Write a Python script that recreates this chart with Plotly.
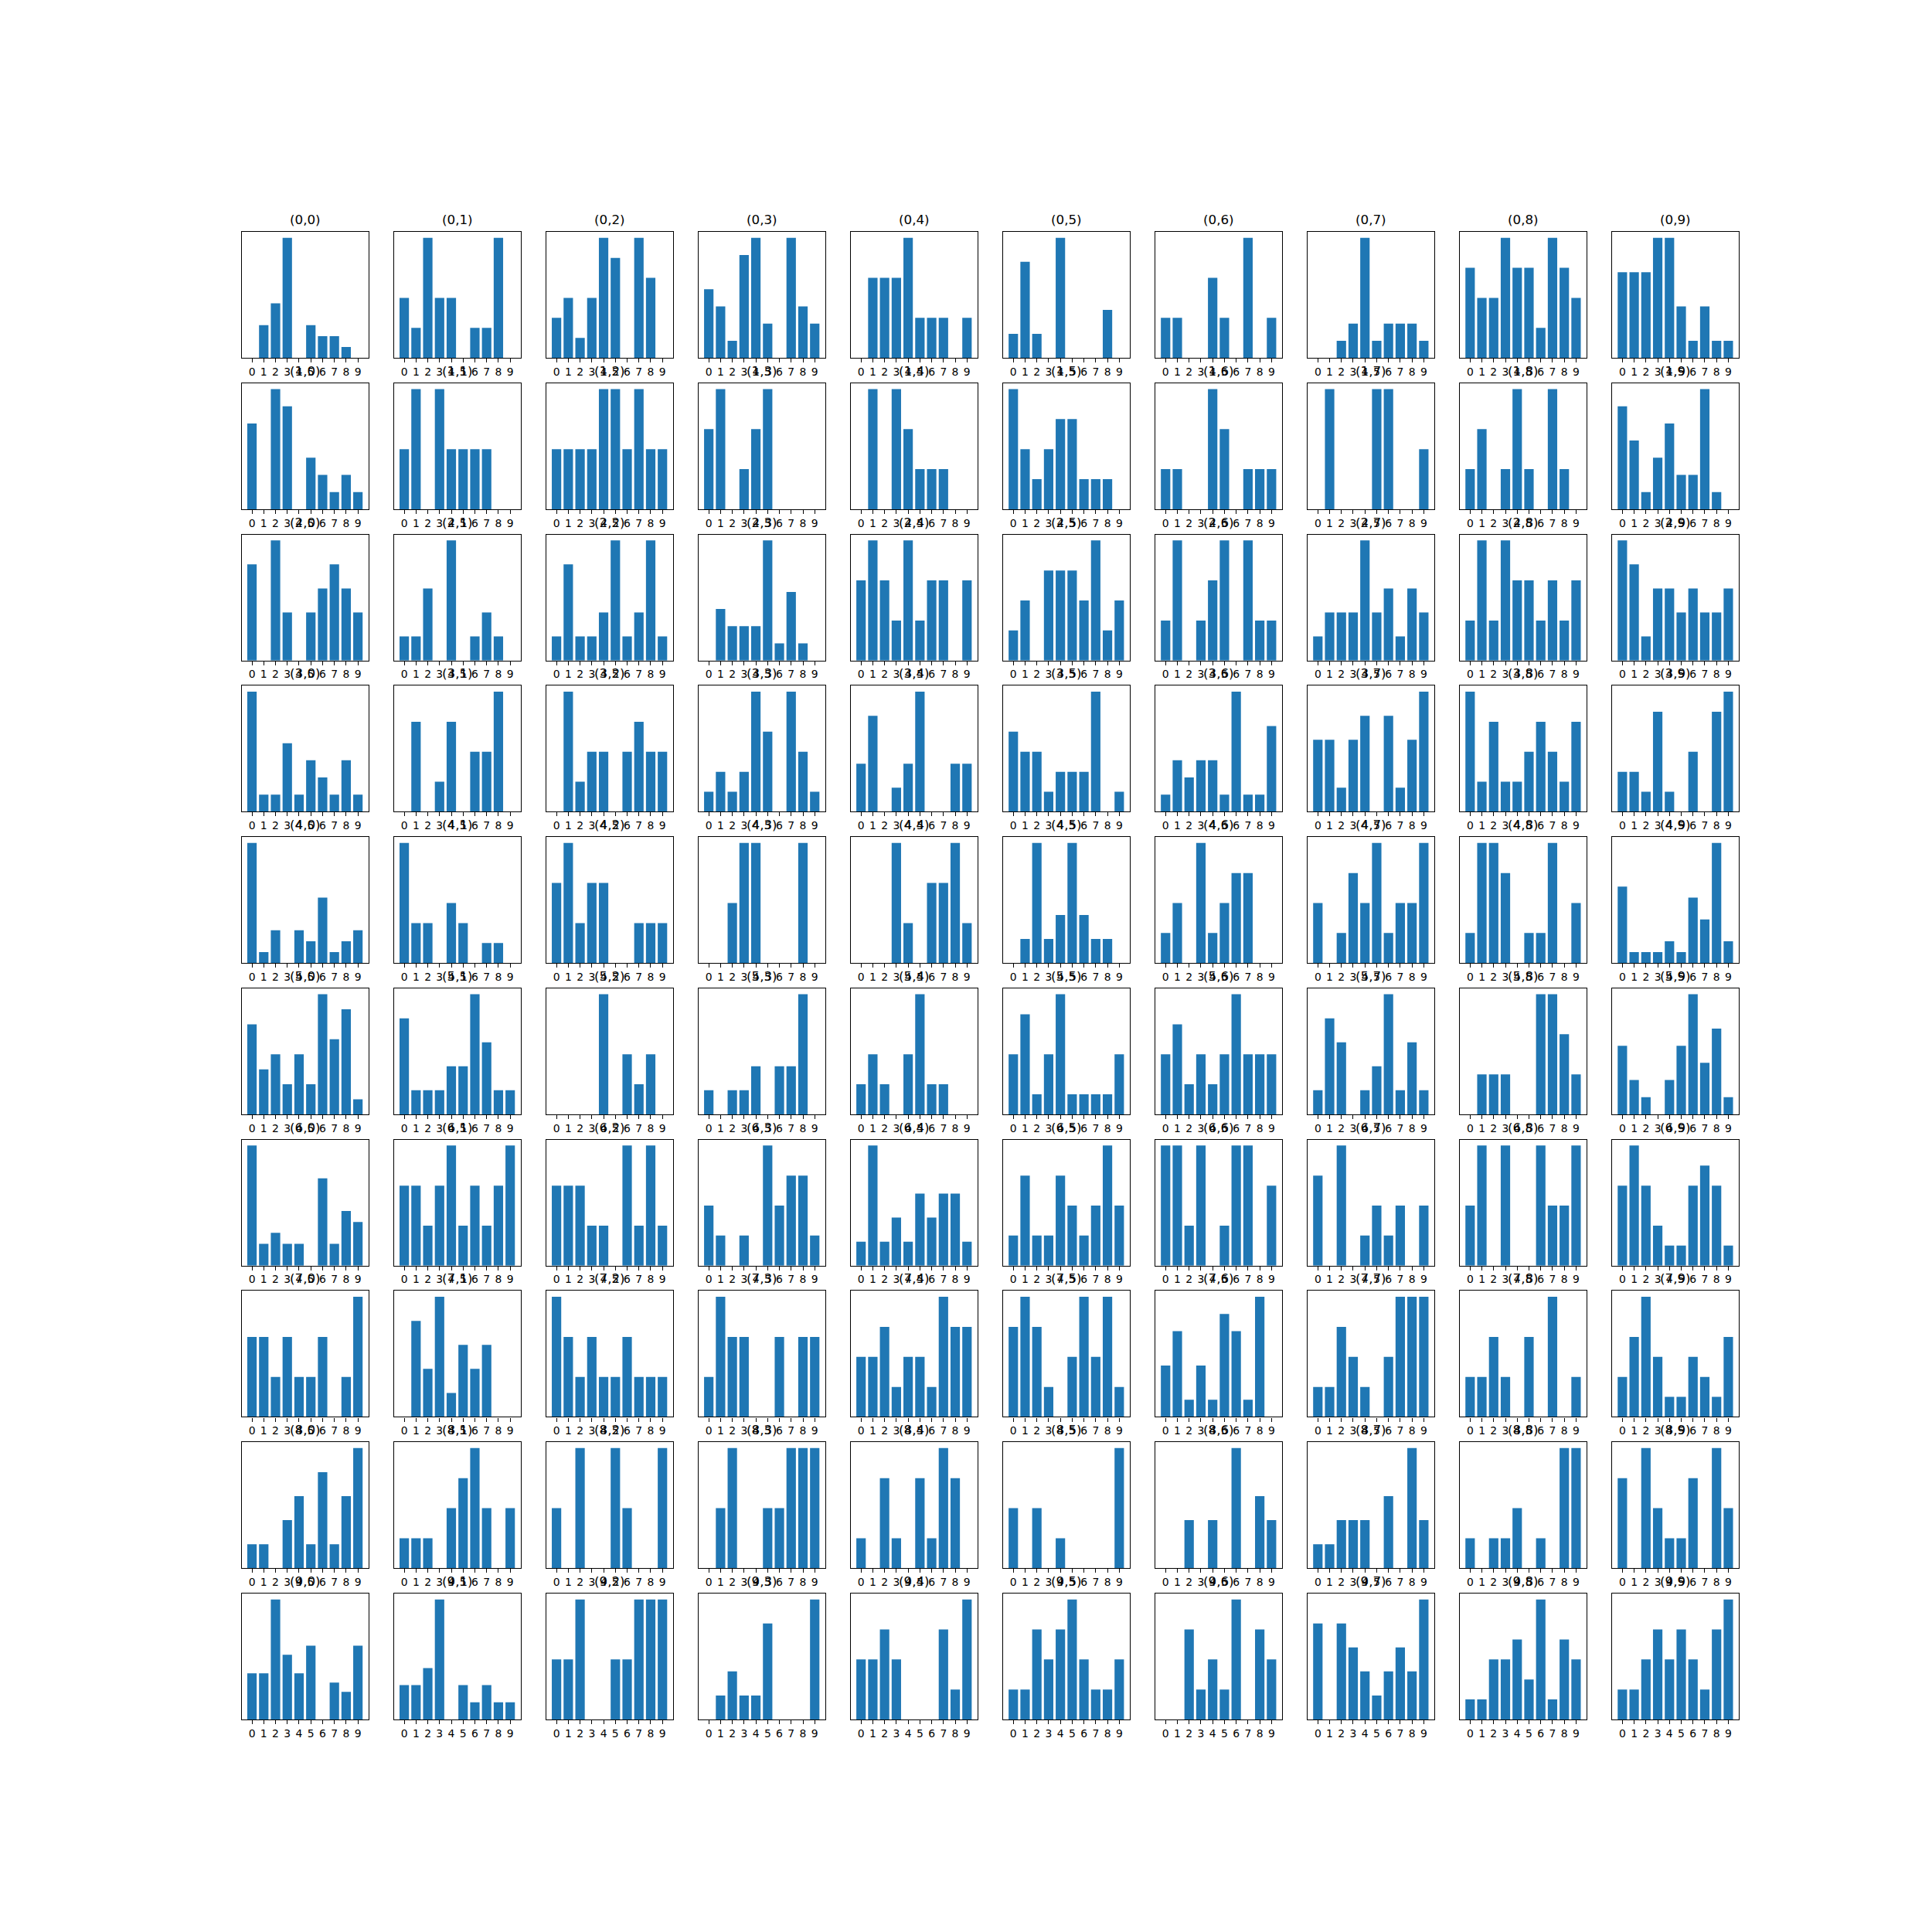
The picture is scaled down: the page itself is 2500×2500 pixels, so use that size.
import plotly.graph_objects as go

# ---- data ----
categories = list(range(10))
tick_labels = [str(c) for c in categories]

row_0 = [
    [0, 3, 5, 11, 0, 3, 2, 2, 1, 0],
    [2, 1, 4, 2, 2, 0, 1, 1, 4, 0],
    [2, 3, 1, 3, 6, 5, 0, 6, 4, 0],
    [4, 3, 1, 6, 7, 2, 0, 7, 3, 2],
    [0, 2, 2, 2, 3, 1, 1, 1, 0, 1],
    [1, 4, 1, 0, 5, 0, 0, 0, 2, 0],
    [1, 1, 0, 0, 2, 1, 0, 3, 0, 1],
    [0, 0, 1, 2, 7, 1, 2, 2, 2, 1],
    [3, 2, 2, 4, 3, 3, 1, 4, 3, 2],
    [5, 5, 5, 7, 7, 3, 1, 3, 1, 1],
]
row_1 = [
    [5, 0, 7, 6, 0, 3, 2, 1, 2, 1],
    [1, 2, 0, 2, 1, 1, 1, 1, 0, 0],
    [1, 1, 1, 1, 2, 2, 1, 2, 1, 1],
    [2, 3, 0, 1, 2, 3, 0, 0, 0, 0],
    [0, 3, 0, 3, 2, 1, 1, 1, 0, 0],
    [4, 2, 1, 2, 3, 3, 1, 1, 1, 0],
    [1, 1, 0, 0, 3, 2, 0, 1, 1, 1],
    [0, 2, 0, 0, 0, 2, 2, 0, 0, 1],
    [1, 2, 0, 1, 3, 1, 0, 3, 1, 0],
    [6, 4, 1, 3, 5, 2, 2, 7, 1, 0],
]
row_2 = [
    [4, 0, 5, 2, 0, 2, 3, 4, 3, 2],
    [1, 1, 3, 0, 5, 0, 1, 2, 1, 0],
    [1, 4, 1, 1, 2, 5, 1, 2, 5, 1],
    [0, 3, 2, 2, 2, 7, 1, 4, 1, 0],
    [2, 3, 2, 1, 3, 1, 2, 2, 0, 2],
    [1, 2, 0, 3, 3, 3, 2, 4, 1, 2],
    [1, 3, 0, 1, 2, 3, 0, 3, 1, 1],
    [1, 2, 2, 2, 5, 2, 3, 1, 3, 2],
    [1, 3, 1, 3, 2, 2, 1, 2, 1, 2],
    [5, 4, 1, 3, 3, 2, 3, 2, 2, 3],
]
row_3 = [
    [7, 1, 1, 4, 1, 3, 2, 1, 3, 1],
    [0, 3, 0, 1, 3, 0, 2, 2, 4, 0],
    [0, 4, 1, 2, 2, 0, 2, 3, 2, 2],
    [1, 2, 1, 2, 6, 4, 0, 6, 3, 1],
    [2, 4, 0, 1, 2, 5, 0, 0, 2, 2],
    [4, 3, 3, 1, 2, 2, 2, 6, 0, 1],
    [1, 3, 2, 3, 3, 1, 7, 1, 1, 5],
    [3, 3, 1, 3, 4, 0, 4, 1, 3, 5],
    [4, 1, 3, 1, 1, 2, 3, 2, 1, 3],
    [2, 2, 1, 5, 1, 0, 3, 0, 5, 6],
]
row_4 = [
    [11, 1, 3, 0, 3, 2, 6, 1, 2, 3],
    [6, 2, 2, 0, 3, 2, 0, 1, 1, 0],
    [2, 3, 1, 2, 2, 0, 0, 1, 1, 1],
    [0, 0, 1, 2, 2, 0, 0, 0, 2, 0],
    [0, 0, 0, 3, 1, 0, 2, 2, 3, 1],
    [0, 1, 5, 1, 2, 5, 2, 1, 1, 0],
    [1, 2, 0, 4, 1, 2, 3, 3, 0, 0],
    [2, 0, 1, 3, 2, 4, 1, 2, 2, 4],
    [1, 4, 4, 3, 0, 1, 1, 4, 0, 2],
    [7, 1, 1, 1, 2, 1, 6, 4, 11, 2],
]
row_5 = [
    [6, 3, 4, 2, 4, 2, 8, 5, 7, 1],
    [4, 1, 1, 1, 2, 2, 5, 3, 1, 1],
    [0, 0, 0, 0, 4, 0, 2, 1, 2, 0],
    [1, 0, 1, 1, 2, 0, 2, 2, 5, 0],
    [1, 2, 1, 0, 2, 4, 1, 1, 0, 0],
    [3, 5, 1, 3, 6, 1, 1, 1, 1, 3],
    [2, 3, 1, 2, 1, 2, 4, 2, 2, 2],
    [1, 4, 3, 0, 1, 2, 5, 1, 3, 1],
    [0, 1, 1, 1, 0, 0, 3, 3, 2, 1],
    [4, 2, 1, 0, 2, 4, 7, 3, 5, 1],
]
row_6 = [
    [11, 2, 3, 2, 2, 0, 8, 2, 5, 4],
    [2, 2, 1, 2, 3, 1, 2, 1, 2, 3],
    [2, 2, 2, 1, 1, 0, 3, 1, 3, 1],
    [2, 1, 0, 1, 0, 4, 2, 3, 3, 1],
    [1, 5, 1, 2, 1, 3, 2, 3, 3, 1],
    [1, 3, 1, 1, 3, 2, 1, 2, 4, 2],
    [3, 3, 1, 3, 0, 1, 3, 3, 0, 2],
    [3, 0, 4, 0, 1, 2, 1, 2, 0, 2],
    [1, 2, 0, 2, 0, 0, 2, 1, 1, 2],
    [4, 6, 4, 2, 1, 1, 4, 5, 4, 1],
]
row_7 = [
    [2, 2, 1, 2, 1, 1, 2, 0, 1, 3],
    [0, 4, 2, 5, 1, 3, 2, 3, 0, 0],
    [3, 2, 1, 2, 1, 1, 2, 1, 1, 1],
    [1, 3, 2, 2, 0, 0, 2, 0, 2, 2],
    [2, 2, 3, 1, 2, 2, 1, 4, 3, 3],
    [3, 4, 3, 1, 0, 2, 4, 2, 4, 1],
    [3, 5, 1, 3, 1, 6, 5, 1, 7, 0],
    [1, 1, 3, 2, 1, 0, 2, 4, 4, 4],
    [1, 1, 2, 1, 0, 2, 0, 3, 0, 1],
    [2, 4, 6, 3, 1, 1, 3, 2, 1, 4],
]
row_8 = [
    [1, 1, 0, 2, 3, 1, 4, 1, 3, 5],
    [1, 1, 1, 0, 2, 3, 4, 2, 0, 2],
    [1, 0, 2, 0, 0, 2, 1, 0, 0, 2],
    [0, 1, 2, 0, 0, 1, 1, 2, 2, 2],
    [1, 0, 3, 1, 0, 3, 1, 4, 3, 0],
    [2, 0, 2, 0, 1, 0, 0, 0, 0, 4],
    [0, 0, 2, 0, 2, 0, 5, 0, 3, 2],
    [1, 1, 2, 2, 2, 0, 3, 0, 5, 2],
    [1, 0, 1, 1, 2, 0, 1, 0, 4, 4],
    [3, 0, 4, 2, 1, 1, 3, 0, 4, 2],
]
row_9 = [
    [5, 5, 13, 7, 5, 8, 0, 4, 3, 8],
    [2, 2, 3, 7, 0, 2, 1, 2, 1, 1],
    [1, 1, 2, 0, 0, 1, 1, 2, 2, 2],
    [0, 1, 2, 1, 1, 4, 0, 0, 0, 5],
    [2, 2, 3, 2, 0, 0, 0, 3, 1, 4],
    [1, 1, 3, 2, 3, 4, 2, 1, 1, 2],
    [0, 0, 3, 1, 2, 1, 4, 0, 3, 2],
    [4, 0, 4, 3, 2, 1, 2, 3, 2, 5],
    [1, 1, 3, 3, 4, 2, 6, 1, 4, 3],
    [1, 1, 2, 3, 2, 3, 2, 1, 3, 4],
]
rows = [row_0, row_1, row_2, row_3, row_4, row_5, row_6, row_7, row_8, row_9]

# ---- layout geometry (matplotlib default subplot params) ----
W = H = 2500
n = 10
left, right, bottom, top = 0.125, 0.9, 0.11, 0.88
wspace = hspace = 0.2
w = (right - left) / (n + (n - 1) * wspace)
h = (top - bottom) / (n + (n - 1) * hspace)

BLUE = "#1f77b4"
FONT = "DejaVu Sans"

fig = go.Figure()
layout = dict(
    width=W, height=H,
    margin=dict(l=0, r=0, t=0, b=0),
    paper_bgcolor="white", plot_bgcolor="white",
    showlegend=False,
    font=dict(family=FONT, color="black"),
    annotations=[],
)

annotations = []
for i in range(n):
    for j in range(n):
        k = i * n + j + 1
        vals = rows[i][j]
        xname = "x" if k == 1 else f"x{k}"
        yname = "y" if k == 1 else f"y{k}"
        fig.add_trace(go.Bar(
            x=categories, y=vals, width=0.8,
            marker=dict(color=BLUE, line=dict(width=0)),
            xaxis=xname, yaxis=yname, hoverinfo="skip",
        ))
        x0 = left + j * w * (1 + wspace)
        x1 = x0 + w
        y1 = top - i * h * (1 + hspace)
        y0 = y1 - h
        xa = "xaxis" if k == 1 else f"xaxis{k}"
        ya = "yaxis" if k == 1 else f"yaxis{k}"
        layout[xa] = dict(
            domain=[x0, x1], anchor=yname,
            range=[-0.89, 9.89],
            tickmode="array", tickvals=categories, ticktext=tick_labels,
            ticks="outside", ticklen=5, tickwidth=1.1, tickcolor="black",
            tickfont=dict(family=FONT, size=13.9, color="black"),
            showline=True, linecolor="black", linewidth=1.1, mirror=True,
            showgrid=False, zeroline=False, fixedrange=True,
        )
        layout[ya] = dict(
            domain=[y0, y1], anchor=xname,
            range=[0, max(vals) * 1.05],
            showticklabels=False, ticks="",
            showline=True, linecolor="black", linewidth=1.1, mirror=True,
            showgrid=False, zeroline=False, fixedrange=True,
        )
        annotations.append(dict(
            text=f"({i},{j})", xref="paper", yref="paper",
            x=(x0 + x1) / 2, y=y1, xanchor="center", yanchor="bottom",
            yshift=4, showarrow=False,
            font=dict(family=FONT, size=16.7, color="black"),
        ))

layout["annotations"] = annotations
fig.update_layout(**layout)
fig.write_html("out.html")
